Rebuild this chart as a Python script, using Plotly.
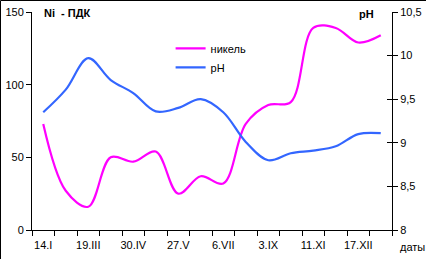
import numpy as np
import plotly.graph_objects as go

# --- data -------------------------------------------------------------
tick_labels = ["14.I", "19.III", "30.IV", "27.V", "6.VII", "3.IX", "11.XI", "17.XII"]
nickel = [73, 27, 16, 50, 47, 54, 25, 37, 32, 73, 86, 88, 139, 139, 129, 134]
ph = [9.35, 9.61, 9.97, 9.72, 9.57, 9.36, 9.40, 9.50, 9.35, 9.01, 8.80, 8.88,
      8.91, 8.96, 9.10, 9.11]
n_cat = len(nickel)
x = np.arange(n_cat)

FONT = "Liberation Sans, Arial, sans-serif"
PINK = "#FF00FF"
BLUE = "#3366FF"

fig = go.Figure()
fig.add_trace(go.Scatter(x=x, y=nickel, name="никель", mode="lines",
                         line=dict(color=PINK, width=2.2, shape="spline", smoothing=1.0),
                         yaxis="y", xaxis="x"))
fig.add_trace(go.Scatter(x=x, y=ph, name="pH", mode="lines",
                         line=dict(color=BLUE, width=2.2, shape="spline", smoothing=1.0),
                         yaxis="y2", xaxis="x"))

xr = [-0.5, n_cat - 0.5]
fig.update_layout(
    width=426, height=259,
    margin=dict(l=32, r=34, t=12, b=29, pad=0, autoexpand=False),
    paper_bgcolor="white", plot_bgcolor="white",
    font=dict(family=FONT, size=11, color="black"),
    showlegend=True,
    legend=dict(x=0.385, y=0.90, xanchor="left", yanchor="top",
                bgcolor="rgba(0,0,0,0)", font=dict(size=11), tracegroupgap=0,
                itemwidth=30),
    xaxis=dict(range=xr, tickmode="array", tickvals=np.arange(n_cat + 1) - 0.5,
               ticktext=[""] * (n_cat + 1), ticks="outside", ticklen=5,
               tickcolor="black", showline=True, linecolor="black", linewidth=1,
               showgrid=False, zeroline=False, fixedrange=True, automargin=False),
    xaxis2=dict(range=xr, overlaying="x", side="bottom", anchor="y",
                tickmode="array", tickvals=x[::2], ticktext=tick_labels,
                ticks="", showline=False, showgrid=False, zeroline=False,
                ticklabelstandoff=7, tickfont=dict(size=11), automargin=False),
    yaxis=dict(range=[0, 150], tickvals=[0, 50, 100, 150], ticks="outside",
               ticklen=5, tickcolor="black", showline=True, linecolor="black",
               linewidth=1, showgrid=False, zeroline=False, tickfont=dict(size=11),
               automargin=False),
    yaxis2=dict(range=[8, 10.5], tickvals=[8, 8.5, 9, 9.5, 10, 10.5],
                ticktext=["8", "8,5", "9", "9,5", "10", "10,5"],
                overlaying="y", side="right", anchor="x", ticks="outside",
                ticklen=5, tickcolor="black", showline=True, linecolor="black",
                linewidth=1, showgrid=False, zeroline=False, tickfont=dict(size=11),
                automargin=False),
    yaxis3=dict(range=[8, 10.5], tickvals=[8, 8.5, 9, 9.5, 10, 10.5],
                overlaying="y", side="right", anchor="x", ticks="inside",
                ticklen=5, tickcolor="black", showticklabels=False,
                showline=False, showgrid=False, zeroline=False, automargin=False),
)

# dummy invisible trace to activate xaxis2 / yaxis3
fig.add_trace(go.Scatter(x=[x[0]], y=[ph[0]], xaxis="x2", yaxis="y3",
                         mode="markers", marker=dict(opacity=0),
                         showlegend=False, hoverinfo="skip"))

fig.add_annotation(text="<b>Ni  - ПДК</b>", xref="paper", yref="paper",
                   x=(42 - 32) / 360, y=(230 - 13) / 218, xanchor="left",
                   yanchor="middle", showarrow=False, font=dict(size=11))
fig.add_annotation(text="<b>pH</b>", xref="paper", yref="paper",
                   x=(376 - 32) / 360, y=(230 - 14) / 218, xanchor="right",
                   yanchor="middle", showarrow=False, font=dict(size=11))
fig.add_annotation(text="даты", xref="paper", yref="paper",
                   x=(412 - 32) / 360, y=(230 - 247) / 218, xanchor="center",
                   yanchor="middle", showarrow=False, font=dict(size=11))

# chart frame (top and left edges visible)
fig.add_shape(type="line", xref="paper", yref="paper",
              x0=(0.5 - 32) / 360, x1=(426 - 32) / 360,
              y0=(230 - 0.5) / 218, y1=(230 - 0.5) / 218,
              line=dict(color="black", width=1))
fig.add_shape(type="line", xref="paper", yref="paper",
              x0=(0.5 - 32) / 360, x1=(0.5 - 32) / 360,
              y0=(230 - 0.5) / 218, y1=(230 - 259) / 218,
              line=dict(color="black", width=1))

fig.write_html("out.html")
